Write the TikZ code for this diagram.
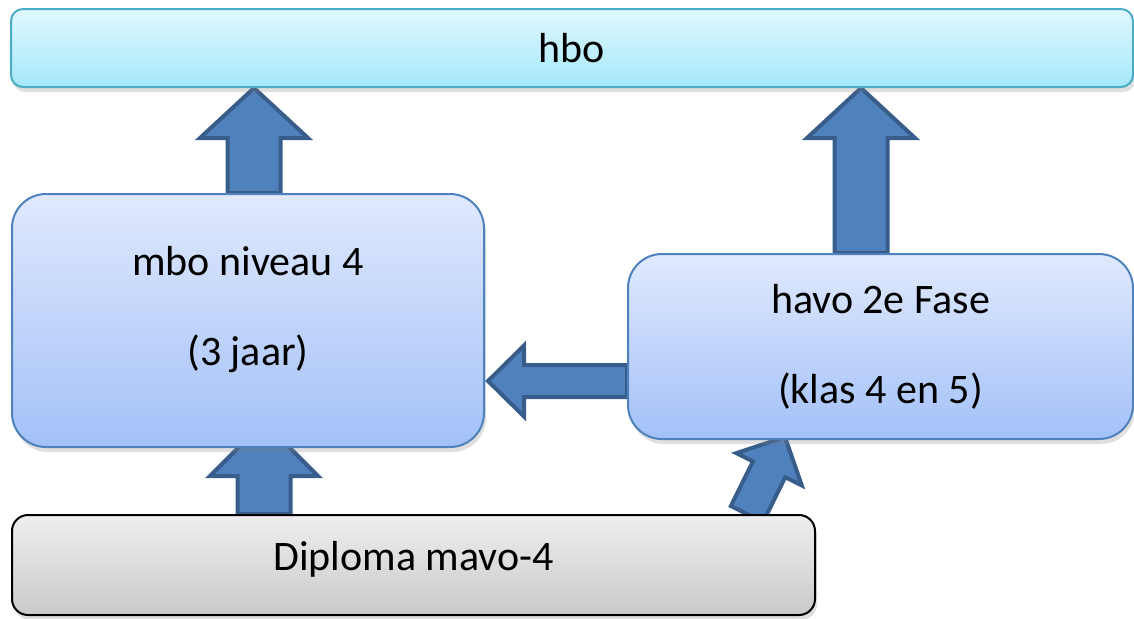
\documentclass[tikz,border=0pt]{standalone}
\usepackage{fontspec}
\setmainfont{Carlito}
\usetikzlibrary{calc,shadows}

\pgfdeclarelayer{back}
\pgfsetlayers{back,main}

\definecolor{hbotop}{HTML}{E0F8FE}
\definecolor{hbobot}{HTML}{A4E8FA}
\definecolor{hboline}{HTML}{4BACC6}
\definecolor{stagetop}{HTML}{E0E9FD}
\definecolor{stagebot}{HTML}{A3C1F8}
\definecolor{stageline}{HTML}{4F81BD}
\definecolor{arrfill}{HTML}{4F81BD}
\definecolor{arrline}{HTML}{385D8A}

\tikzset{
  softshadow/.style={drop shadow={shadow xshift=1pt,shadow yshift=-2.5pt,opacity=.25}},
  hbobar/.style={draw=hboline, line width=1pt, rounded corners=6pt, top color=hbotop, bottom color=hbobot, softshadow, font=\fontsize{21}{45}\selectfont},
  stage/.style={draw=stageline, line width=1pt, rounded corners=17pt, top color=stagetop, bottom color=stagebot, softshadow, align=center, font=\fontsize{21}{45}\selectfont},
  diploma/.style={draw=black, line width=1pt, rounded corners=8pt, top color=gray!13, bottom color=gray!42, softshadow, font=\fontsize{21}{45}\selectfont},
  blockarrow/.style={fill=arrfill, draw=arrline, line width=2pt}
}

% tail, tip, half shaft, half head, head length
\newcommand\blockarr[5]{%
  \coordinate (hb) at ($(#2)!#5!(#1)$);
  \draw[blockarrow] ($(#1)!#3!90:(#2)$) -- ($(hb)!#3!90:(#2)$) -- ($(hb)!#4!90:(#2)$) -- (#2)
    -- ($(hb)!#4!-90:(#2)$) -- ($(hb)!#3!-90:(#2)$) -- ($(#1)!#3!-90:(#2)$) -- cycle;}

\begin{document}
\begin{tikzpicture}[x=0.5pt,y=-0.5pt]
\useasboundingbox (0,0) rectangle (1134,618);

\node[hbobar, minimum width=561pt, minimum height=39pt] (hbo) at (572,48) {hbo};
\node[stage, minimum width=236pt, minimum height=126.5pt, text depth=15pt] (mbo) at (248,320.5) {mbo niveau 4\\(3 jaar)};
\node[stage, minimum width=252.5pt, minimum height=92.5pt] (havo) at (880.5,346.5) {havo 2e Fase\\(klas 4 en 5)};
\node[diploma, minimum width=401.5pt, minimum height=50pt, text depth=9pt] (dip) at (413.5,565) {Diploma mavo-4};

\coordinate (m1) at ($(mbo.north)+(6,0)$);
\coordinate (m1t) at (m1 |- hbo.south);
\coordinate (h1) at ($(havo.north)+(-19.5,0)$);
\coordinate (h1t) at (h1 |- hbo.south);
\coordinate (h2) at ($(havo.west)+(0,34.5)$);
\coordinate (h2t) at ($(h2 -| mbo.east)+(3,0)$);
\coordinate (d1) at ($(dip.north)+(-149.5,0)$);
\coordinate (d1t) at ($(d1 |- mbo.south)+(0,-26)$);
\coordinate (d2) at ($(dip.north)+(333.5,0)$);
\coordinate (d2t) at ($(havo.south west)+(158,-3)$);

% arrows go behind the boxes
\begin{pgfonlayer}{back}
\blockarr{m1}{m1t}{13.25pt}{27pt}{25pt}
\blockarr{h1}{h1t}{13.25pt}{27pt}{25pt}
\blockarr{h2}{h2t}{8pt}{17.75pt}{18pt}
\blockarr{d1}{d1t}{13.25pt}{27pt}{27pt}
\blockarr{d2}{d2t}{9pt}{18.25pt}{18pt}
\end{pgfonlayer}
\end{tikzpicture}
\end{document}
